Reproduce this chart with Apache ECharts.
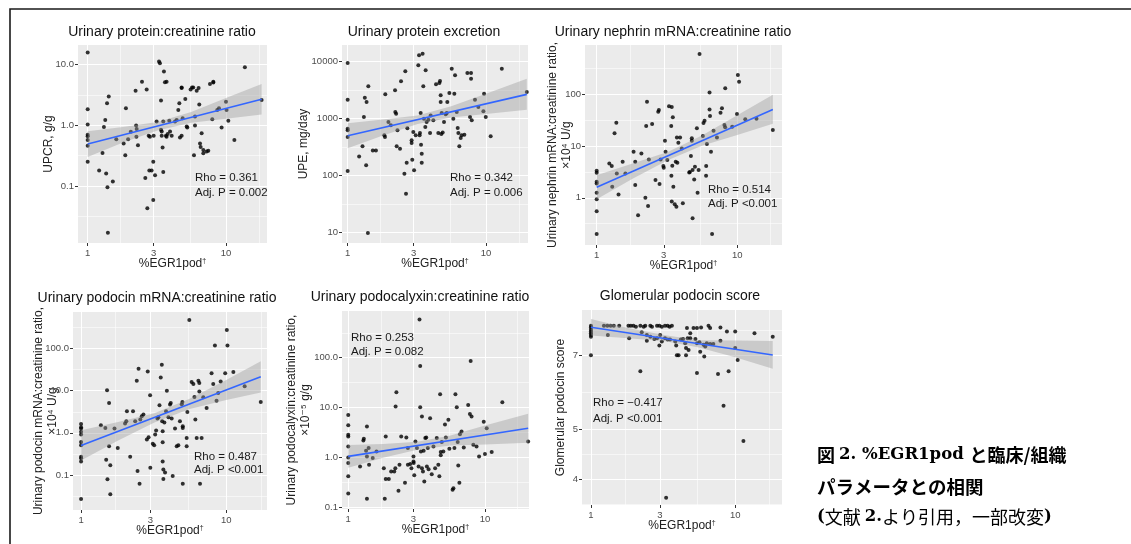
<!DOCTYPE html>
<html><head><meta charset="utf-8">
<script src="https://cdn.jsdelivr.net/npm/echarts@6/dist/echarts.min.js"></script>
<style>html,body{margin:0;padding:0;background:#fff}#c{width:1131px;height:544px}</style>
</head><body><div id="c"></div>
<script>
// ---------- DATA ----------
const xTicks = [1, 3, 10];
const xTickLabels = ['1', '3', '10'];
const xMinorTicks = [1.73, 5.48, 17.3];

// Panel 1: Urinary protein:creatinine ratio (UPCR, g/g)
const p1Points = [[1,15.8],[1,1.84],[1,1.03],[1,0.70],[1,0.66],[1,0.57],[1,0.46],[1,0.25],[1.21,0.18],[1.28,0.35],[1.31,0.94],[1.34,1.22],[1.38,2.3],[1.42,2.97],[1.36,0.16],[1.39,0.095],[1.52,0.118],[1.40,0.017],[1.61,0.59],[1.82,0.50],[1.87,0.32],[1.89,1.9],[1.96,0.59],[2.05,0.78],[2.22,3.7],[2.24,0.99],[2.26,0.87],[2.25,0.65],[2.31,0.47],[2.47,5.2],[2.67,3.9],[2.61,0.135],[2.70,0.043],[2.76,0.67],[2.82,0.65],[2.79,0.18],[2.90,0.18],[2.98,0.25],[2.98,0.059],[3.07,0.15],[3.0,0.67],[3.15,1.15],[3.28,11.2],[3.33,10.5],[3.39,2.55],[3.39,0.84],[3.43,0.79],[3.43,0.67],[3.48,0.43],[3.52,0.17],[3.52,1.15],[3.56,7.7],[3.62,5.1],[3.72,5.2],[3.68,0.67],[3.72,0.65],[3.79,0.72],[3.89,1.19],[3.94,0.79],[4.05,0.67],[4.28,1.15],[4.40,1.22],[4.52,1.79],[4.60,2.3],[4.65,0.63],[4.78,0.67],[4.78,4.1],[4.78,4.2],[4.86,1.30],[5.08,2.7],[5.20,0.95],[5.25,0.92],[5.55,3.9],[5.68,4.2],[5.80,4.2],[5.97,1.39],[5.97,0.99],[5.87,0.32],[6.14,3.7],[6.34,4.1],[6.41,2.2],[6.49,0.50],[6.56,0.44],[6.67,0.74],[6.86,0.39],[6.86,0.345],[7.25,0.37],[7.45,0.38],[7.66,4.8],[8.10,5.05],[8.10,5.2],[7.96,1.26],[8.65,1.79],[8.90,1.9],[9.30,0.92],[10.0,2.45],[10.1,1.79],[10.4,1.19],[11.5,0.57],[13.7,9.0],[18.1,2.6]];
const p1FitX = [1, 18.1];
const p1FitY = [0.49, 2.69];
const p1BandX = [1, 1.8, 3.2, 5.6, 10, 18.1];
const p1BandLo = [0.30, 0.52, 0.82, 1.10, 1.28, 1.51];
const p1BandHi = [0.80, 0.94, 1.13, 1.66, 2.81, 4.8];
const p1YTicks = [0.1, 1, 10];
const p1YTickLabels = ['0.1', '1.0', '10.0'];
const p1YMinor = [0.0316, 0.316, 3.16];

// Panel 2: Urinary protein excretion (UPE, mg/day)
const p2Points = [[1,9480],[1,2150],[1,960],[1,668],[1,624],[1,477],[1,121],[1.21,218],[1.28,327],[1.31,1070],[1.33,2330],[1.37,1960],[1.36,152],[1.41,3690],[1.40,9.9],[1.52,278],[1.60,278],[1.84,510],[1.86,477],[1.87,2670],[1.97,875],[2.05,764],[2.20,3140],[2.21,1310],[2.24,1220],[2.26,327],[2.29,624],[2.39,298],[2.43,4520],[2.57,108],[2.61,6770],[2.64,48],[2.67,169],[2.70,680],[2.90,417],[2.90,374],[2.93,191],[2.98,583],[3.02,124],[3.10,510],[3.24,8630],[3.28,12900],[3.31,510],[3.33,561],[3.37,1260],[3.39,350],[3.43,243],[3.43,169],[3.48,13800],[3.52,3690],[3.56,1000],[3.64,714],[3.66,7040],[3.72,875],[3.83,960],[3.94,561],[3.98,1140],[4.16,935],[4.35,4000],[4.52,561],[4.60,4220],[4.65,4580],[4.70,2570],[4.70,1960],[4.78,1260],[4.75,540],[4.86,575],[4.97,875],[5.11,1190],[5.20,1260],[5.25,1960],[5.43,2820],[5.65,7540],[5.80,1000],[5.90,2750],[5.97,5760],[6.14,1310],[6.24,686],[6.31,561],[6.41,327],[6.56,458],[6.67,510],[6.97,524],[7.33,6330],[7.66,1070],[7.79,6330],[7.88,935],[7.79,5030],[8.32,2150],[8.80,1600],[9.57,1350],[9.68,2750],[9.95,1070],[10.8,490],[13.0,7540],[19.7,2940]];
const p2FitX = [1, 19.7];
const p2FitY = [500, 2670];
const p2BandX = [1, 1.8, 3.2, 5.6, 10, 19.7];
const p2BandLo = [302, 508, 806, 1050, 1210, 1440];
const p2BandHi = [832, 968, 1137, 1660, 2750, 5000];
const p2YTicks = [10, 100, 1000, 10000];
const p2YTickLabels = ['10', '100', '1000', '10000'];
const p2YMinor = [31.6, 316, 3162];

// Panel 3: Urinary nephrin mRNA:creatinine ratio
const p3Points = [[1,3.33],[1,3.05],[1,2.04],[1,1.89],[1,1.25],[1,0.94],[1,0.55],[1,0.20],[1.23,4.6],[1.28,4.1],[1.29,1.63],[1.34,17.6],[1.38,28.3],[1.39,2.96],[1.43,1.16],[1.53,4.98],[1.60,2.96],[1.83,7.8],[1.88,4.98],[1.88,1.76],[1.97,0.46],[2.08,7.2],[2.22,1.0],[2.25,24.4],[2.28,72],[2.32,0.69],[2.35,5.5],[2.48,26.7],[2.62,2.2],[2.74,46],[2.77,50],[2.80,1.84],[2.85,5.5],[2.98,4.1],[3.00,3.81],[3.06,12.7],[3.09,7.8],[3.18,5.4],[3.27,59],[3.40,2.67],[3.42,0.85],[3.45,4.16],[3.51,1.63],[3.59,0.75],[3.65,4.98],[3.69,0.67],[3.75,4.75],[4.10,0.78],[4.03,9.0],[4.55,3.09],[4.60,3.14],[4.68,6.4],[4.81,3.43],[4.81,0.40],[4.94,2.26],[5.00,3.98],[5.22,1.25],[5.31,3.43],[6.0,2.67],[6.01,4.1],[6.5,7.8],[6.62,0.2],[5.39,603],[10.1,236],[10.3,175],[6.35,109],[8.21,131],[6.35,51],[6.4,38],[5.85,31],[5.75,28],[7.78,54],[7.6,44],[9.95,41.7],[11.4,33],[13.7,33.8],[8.1,25.5],[8.2,23],[9.2,23.6],[6.78,19.8],[5.16,22],[5.69,15.6],[7.17,14.7],[4.75,14.1],[4.75,12.7],[3.72,14.7],[3.92,14.7],[3.81,11.6],[6.08,11],[3.42,57],[3.48,36],[3.39,24.4],[17.9,20.4]];
const p3FitX = [1, 17.9];
const p3FitY = [1.6, 51];
const p3BandX = [1, 1.8, 3.2, 5.6, 10, 17.9];
const p3BandLo = [0.94, 2.34, 5.3, 10.1, 16.4, 26.9];
const p3BandHi = [2.73, 4.6, 7.7, 16.0, 39.3, 97.7];
const p3YTicks = [1, 10, 100];
const p3YTickLabels = ['1', '10', '100'];
const p3YMinor = [0.316, 3.16, 31.6, 316];

// Panel 4: Urinary podocin mRNA:creatinine ratio
const p4Points = [[1,1.63],[1,1.36],[1,1.27],[1,1.06],[1,0.91],[1,0.61],[1,0.51],[1,0.27],[1,0.25],[1,0.21],[1,0.027],[1.37,1.52],[1.47,1.31],[1.49,0.23],[1.51,10.2],[1.56,5.1],[1.56,0.48],[1.52,0.079],[1.59,0.17],[1.59,0.035],[1.70,1.27],[1.79,0.44],[2.01,1.66],[2.05,1.89],[2.07,3.25],[2.18,0.27],[2.28,3.25],[2.36,1.89],[2.42,17.2],[2.45,0.124],[2.49,33],[2.53,0.062],[2.56,2.07],[2.62,2.47],[2.69,2.71],[2.84,0.70],[2.88,28.6],[2.92,0.79],[2.99,7.8],[3.0,0.149],[3.12,0.55],[3.19,0.51],[3.24,0.91],[3.29,1.14],[3.36,2.18],[3.41,2.34],[3.47,4.5],[3.54,20.6],[3.6,41],[3.62,1.89],[3.65,1.09],[3.65,0.60],[3.65,0.21],[3.69,0.136],[3.69,0.080],[3.75,1.75],[3.79,0.114],[3.85,3.25],[3.9,10.0],[4.0,2.34],[4.1,4.7],[4.15,5.1],[4.21,2.18],[4.28,0.095],[4.44,1.27],[4.56,0.48],[4.68,0.51],[4.8,1.89],[4.94,4.8],[4.99,5.4],[5.02,1.44],[5.02,1.31],[5.02,0.062],[5.34,0.76],[5.34,0.48],[5.4,3.13],[5.57,475],[5.78,16],[5.94,14.4],[6.04,7.1],[6.13,2.07],[6.26,0.76],[6.43,17.2],[6.53,15.2],[6.53,9.6],[6.77,0.76],[6.6,0.062],[6.95,7.0],[7.33,3.9],[7.93,26],[8.14,14.4],[8.36,118],[8.58,5.8],[8.81,8.8],[9.16,16.6],[9.84,26],[10.1,276],[10.2,118],[11.2,27.6],[13.4,12.7],[17.3,5.4]];
const p4FitX = [1, 17.3];
const p4FitY = [0.5, 21.4];
const p4BandX = [1, 1.8, 3.2, 5.6, 10, 17.3];
const p4BandLo = [0.22, 0.66, 1.76, 3.7, 6.0, 9.1];
const p4BandHi = [1.15, 1.82, 2.9, 6.4, 18.0, 50];
const p4YTicks = [0.1, 1, 10, 100];
const p4YTickLabels = ['0.1', '1.0', '10.0', '100.0'];
const p4YMinor = [0.0316, 0.316, 3.16, 31.6, 316];

// Panel 5: Urinary podocalyxin:creatinine ratio
const p5Points = [[1,7.1],[1,4.4],[1,2.84],[1,2.63],[1,1.66],[1,1.0],[1,0.77],[1,0.42],[1,0.19],[1.22,0.66],[1.29,2.19],[1.3,2.36],[1.35,1.36],[1.37,4.17],[1.37,1.05],[1.37,0.149],[1.41,1.54],[1.42,0.71],[1.51,0.97],[1.61,1.32],[1.85,0.149],[1.82,0.61],[1.88,2.63],[1.88,0.37],[1.98,0.37],[2.06,0.52],[2.17,0.52],[2.21,0.61],[2.22,10.5],[2.25,20.3],[2.33,0.215],[2.37,0.71],[2.44,2.63],[2.6,0.31],[2.66,2.51],[2.73,0.71],[2.73,1.54],[2.84,0.74],[2.9,0.61],[3.0,1.05],[3.0,0.83],[3.01,0.77],[3.04,0.44],[3.1,2.09],[3.18,1.54],[3.27,0.66],[3.32,585],[3.36,68],[3.36,10.2],[3.4,1.32],[3.46,6.6],[3.46,0.61],[3.52,0.52],[3.56,1.36],[3.6,0.33],[3.66,2.44],[3.72,2.51],[3.76,0.66],[3.82,1.54],[3.87,0.58],[3.97,6.1],[4.08,0.46],[4.2,1.66],[4.32,0.61],[4.44,2.44],[4.56,0.71],[4.64,0.42],[4.7,18.5],[4.75,1.28],[4.75,1.1],[4.83,2.03],[4.96,1.32],[5.1,4.6],[5.18,2.51],[5.4,5.7],[5.49,1.49],[5.8,0.226],[5.88,0.24],[5.98,1.54],[6.08,18.5],[6.22,10.2],[6.32,2.03],[6.38,0.69],[6.5,0.31],[6.56,2.93],[6.74,3.31],[7.0,1.58],[7.54,11.3],[7.76,7.4],[7.98,6.6],[7.86,86],[8.22,1.79],[8.68,1.66],[9.06,1.05],[9.8,5.2],[10.0,1.17],[10.3,3.86],[11.2,1.28],[13.4,12.8],[20.7,2.09]];
const p5FitX = [1, 20.7];
const p5FitY = [1.05, 3.85];
const p5BandX = [1, 1.8, 3.2, 5.6, 10, 20.7];
const p5BandLo = [0.62, 0.98, 1.42, 1.74, 1.82, 1.97];
const p5BandHi = [1.78, 1.87, 2.07, 2.76, 4.38, 7.5];
const p5YTicks = [0.1, 1, 10, 100];
const p5YTickLabels = ['0.1', '1.0', '10.0', '100.0'];
const p5YMinor = [0.316, 3.16, 31.6, 316];

// Panel 6: Glomerular podocin score
const p6Points = [[1,7.98],[1,7.92],[1,7.84],[1,7.78],[1,7.72],[1,7.66],[1,7.6],[1,6.99],[1.23,7.98],[1.30,7.98],[1.37,7.98],[1.44,7.98],[1.57,7.98],[1.82,7.98],[1.89,7.98],[1.97,7.98],[2.05,7.95],[2.2,7.98],[2.32,7.95],[2.38,7.98],[2.58,7.98],[2.65,7.95],[2.87,7.98],[2.98,7.98],[3.1,7.95],[3.26,7.98],[3.4,7.98],[3.51,7.95],[3.64,7.98],[4.63,7.9],[4.88,7.72],[5.14,7.9],[5.43,7.9],[5.8,7.92],[6.53,7.98],[6.7,7.9],[7.9,7.92],[1.31,7.66],[1.84,7.55],[2.25,7.75],[2.44,7.66],[2.58,7.6],[2.75,7.52],[2.87,7.55],[3.02,7.66],[3.1,7.44],[3.26,7.55],[3.4,7.5],[3.53,7.5],[3.84,7.44],[4.2,7.5],[4.35,7.52],[4.5,7.38],[4.68,7.55],[4.88,7.55],[5.3,7.52],[5.43,7.38],[5.65,7.41],[6.03,7.33],[6.2,7.27],[6.35,7.38],[6.7,7.35],[7.05,7.35],[7.9,7.46],[8.76,7.78],[10,7.78],[10,7.22],[13.6,7.72],[18.2,7.6],[2.44,7.46],[2.98,7.3],[3.9,7.3],[4.56,7.22],[4.75,7.16],[5.72,7.1],[6.1,6.95],[3.94,6.99],[4.05,6.99],[4.56,6.99],[5.43,6.45],[7.6,6.42],[9.0,6.5],[2.2,6.5],[10.4,6.84],[8.3,5.57],[11.4,4.75],[3.32,3.68]];
const p6FitX = [1, 18.2];
const p6FitY = [7.93, 7.0];
const p6BandX = [1, 1.8, 3.2, 5.6, 10, 18.2];
const p6BandLo = [7.64, 7.55, 7.45, 7.24, 6.93, 6.58];
const p6BandHi = [8.23, 7.9, 7.66, 7.48, 7.47, 7.45];
const p6YTicks = [4, 5, 7];
const p6YTickLabels = ['4', '5', '7'];
const p6YMinor = [3.58, 4.47, 5.92, 7.83];

// ---------- TEXT ----------
const panelTitles = ['Urinary protein:creatinine ratio', 'Urinary protein excretion', 'Urinary nephrin mRNA:creatinine ratio',
  'Urinary podocin mRNA:creatinine ratio', 'Urinary podocalyxin:creatinine ratio', 'Glomerular podocin score'];
const yTitles = ['UPCR, g/g', 'UPE, mg/day', 'Urinary nephrin mRNA:creatinine ratio,\n×10⁴ U/g',
  'Urinary podocin mRNA:creatinine ratio,\n×10⁴ U/g', 'Urinary podocalyxin:creatinine ratio,\n×10⁻⁵ g/g', 'Glomerular podocin score'];
const statTexts = [['Rho = 0.361', 'Adj. P = 0.002'], ['Rho = 0.342', 'Adj. P = 0.006'], ['Rho = 0.514', 'Adj. P <0.001'],
  ['Rho = 0.487', 'Adj. P <0.001'], ['Rho = 0.253', 'Adj. P = 0.082'], ['Rho = \u22120.417', 'Adj. P <0.001']];

// ---------- LAYOUT (positions / ranges) ----------
const layout = [
  {left: 78, top: 45, width: 189, height: 198, xMin: 0.851, xMax: 19.8, yMin: 0.0115, yMax: 21.0, yGap: 23, title: [162, 32], stat: [195, 178, 15]},
  {left: 342, top: 45, width: 186, height: 198, xMin: 0.91, xMax: 20.1, yMin: 6.6, yMax: 19600, yGap: 32, title: [424, 32], stat: [450, 178, 15]},
  {left: 585, top: 45, width: 197, height: 200, xMin: 0.826, xMax: 20.8, yMin: 0.122, yMax: 900, yGap: 12, title: [673, 32], stat: [708, 190, 14]},
  {left: 73, top: 312, width: 194, height: 198, xMin: 0.88, xMax: 19.1, yMin: 0.0148, yMax: 736, yGap: 14, title: [157, 298], stat: [194, 457, 13]},
  {left: 342, top: 311, width: 187, height: 198, xMin: 0.90, xMax: 21.0, yMin: 0.0925, yMax: 863, yGap: 30, title: [420, 297], stat: [351, 338, 14]},
  {left: 582, top: 310, width: 200, height: 195, xMin: 0.867, xMax: 21.1, yMin: 3.56, yMax: 8.57, yGap: 15, title: [680, 296], stat: [593, 403, 16]}
];

const panelData = [
  {pts: p1Points, fx: p1FitX, fy: p1FitY, bx: p1BandX, blo: p1BandLo, bhi: p1BandHi, yt: p1YTicks, yl: p1YTickLabels, ym: p1YMinor},
  {pts: p2Points, fx: p2FitX, fy: p2FitY, bx: p2BandX, blo: p2BandLo, bhi: p2BandHi, yt: p2YTicks, yl: p2YTickLabels, ym: p2YMinor},
  {pts: p3Points, fx: p3FitX, fy: p3FitY, bx: p3BandX, blo: p3BandLo, bhi: p3BandHi, yt: p3YTicks, yl: p3YTickLabels, ym: p3YMinor},
  {pts: p4Points, fx: p4FitX, fy: p4FitY, bx: p4BandX, blo: p4BandLo, bhi: p4BandHi, yt: p4YTicks, yl: p4YTickLabels, ym: p4YMinor},
  {pts: p5Points, fx: p5FitX, fy: p5FitY, bx: p5BandX, blo: p5BandLo, bhi: p5BandHi, yt: p5YTicks, yl: p5YTickLabels, ym: p5YMinor},
  {pts: p6Points, fx: p6FitX, fy: p6FitY, bx: p6BandX, blo: p6BandLo, bhi: p6BandHi, yt: p6YTicks, yl: p6YTickLabels, ym: p6YMinor}
];

// ---------- BUILD ----------
const SANS = '"Liberation Sans", Arial, "DejaVu Sans", sans-serif';
const labelColor = '#4D4D4D';
function fmt(ticks, labels) {
  return function (v) {
    const k = ticks.findIndex(t => Math.abs(t - v) / t < 1e-6);
    return k >= 0 ? labels[k] : '';
  };
}

const grids = [], xAxes = [], yAxes = [], series = [], graphics = [];
layout.forEach((L, i) => {
  const D = panelData[i];
  grids.push({left: L.left, top: L.top, width: L.width, height: L.height, show: true,
    backgroundColor: '#EBEBEB', borderWidth: 0, outerBoundsMode: 'none', containLabel: false});
  // major x
  xAxes.push({gridIndex: i, type: 'log', logBase: 10, min: L.xMin, max: L.xMax, position: 'bottom',
    axisLine: {show: false},
    axisTick: {show: true, length: 3, lineStyle: {color: '#333', width: 1}, customValues: xTicks},
    axisLabel: {show: true, customValues: xTicks, formatter: fmt(xTicks, xTickLabels), fontSize: 9.5,
      color: labelColor, margin: 5, fontFamily: SANS, hideOverlap: false},
    splitLine: {show: true, lineStyle: {color: '#FFFFFF', width: 1.1}},
    name: '%EGR1pod{sup|\u2020}', nameLocation: 'middle', nameGap: 15, nameMoveOverlap: false,
    nameTextStyle: {fontSize: 12, color: '#222', fontFamily: SANS,
      rich: {sup: {fontSize: 7, color: '#222', fontFamily: SANS, verticalAlign: 'top', padding: [0, 0, 5, 0]}}}
  });
  // minor x
  xAxes.push({gridIndex: i, type: 'log', logBase: 10, min: L.xMin, max: L.xMax, position: 'bottom',
    axisLine: {show: false}, axisTick: {show: false, customValues: xMinorTicks}, axisLabel: {show: false},
    splitLine: {show: true, lineStyle: {color: '#FFFFFF', width: 0.55}}});
  // major y
  yAxes.push({gridIndex: i, type: 'log', logBase: 10, min: L.yMin, max: L.yMax, position: 'left',
    axisLine: {show: false},
    axisTick: {show: true, length: 3, lineStyle: {color: '#333', width: 1}, customValues: D.yt},
    axisLabel: {show: true, customValues: D.yt, formatter: fmt(D.yt, D.yl), fontSize: 9.5,
      color: labelColor, margin: 4, fontFamily: SANS, hideOverlap: false},
    splitLine: {show: true, lineStyle: {color: '#FFFFFF', width: 1.1}},
    name: yTitles[i], nameLocation: 'middle', nameGap: L.yGap, nameMoveOverlap: false,
    nameTextStyle: {fontSize: 12, color: '#222', fontFamily: SANS, lineHeight: 13.5}
  });
  // minor y
  yAxes.push({gridIndex: i, type: 'log', logBase: 10, min: L.yMin, max: L.yMax, position: 'left',
    axisLine: {show: false}, axisTick: {show: false, customValues: D.ym}, axisLabel: {show: false},
    splitLine: {show: true, lineStyle: {color: '#FFFFFF', width: 0.55}}});

  const xi = 2 * i, yi = 2 * i;
  series.push({type: 'scatter', xAxisIndex: xi, yAxisIndex: yi, data: D.pts, symbol: 'circle', symbolSize: 4,
    itemStyle: {color: '#000'}, silent: true, z: 2, animation: false});
  series.push({type: 'custom', xAxisIndex: xi, yAxisIndex: yi, z: 3, silent: true, animation: false,
    data: [[D.bx[0], D.blo[0]]], encode: {x: 0, y: 1},
    renderItem: function (params, api) {
      const pts = [];
      for (let k = 0; k < D.bx.length; k++) pts.push(api.coord([D.bx[k], D.bhi[k]]));
      for (let k = D.bx.length - 1; k >= 0; k--) pts.push(api.coord([D.bx[k], D.blo[k]]));
      return {type: 'polygon', shape: {points: pts}, style: {fill: 'rgba(153,153,153,0.4)'}};
    }});
  series.push({type: 'line', xAxisIndex: xi, yAxisIndex: yi, z: 4, silent: true, animation: false,
    data: D.fx.map((x, k) => [x, D.fy[k]]), showSymbol: false, symbol: 'none',
    lineStyle: {color: '#3366FF', width: 1.6}});

  graphics.push({type: 'text', x: L.title[0], y: L.title[1], silent: true, z: 100,
    style: {text: panelTitles[i], fontSize: 14, fontFamily: SANS, fill: '#111', align: 'center', verticalAlign: 'middle'}});
  statTexts[i].forEach((s, k) => graphics.push({type: 'text', x: L.stat[0], y: L.stat[1] + k * L.stat[2], silent: true, z: 100,
    style: {text: s, fontSize: 11.5, fontFamily: SANS, fill: '#1a1a1a', align: 'left', verticalAlign: 'middle'}}));
});

// frame
graphics.push({type: 'rect', silent: true, shape: {x: 10, y: 9, width: 1200, height: 600},
  style: {fill: 'none', stroke: '#1a1a1a', lineWidth: 1.6}, z: 100});
// caption
const CJK = '"Noto Sans CJK JP", sans-serif';
const SERIF = '"DejaVu Serif", "Liberation Serif", "Noto Sans CJK JP", serif';
graphics.push({type: 'text', x: 817, y: 455, silent: true, z: 100, style: {
  text: '{j|図 }{s|2. %EGR1pod }{j|と臨床/組織}', verticalAlign: 'middle', align: 'left',
  rich: {j: {fontFamily: CJK, fontWeight: 'bold', fontSize: 18, fill: '#000'},
         s: {fontFamily: SERIF, fontWeight: 'bold', fontSize: 16.5, fill: '#000'}}}});
graphics.push({type: 'text', x: 817, y: 487, silent: true, z: 100, style: {
  text: 'パラメータとの相関', fontFamily: CJK, fontWeight: 'bold', fontSize: 18.5, fill: '#000', verticalAlign: 'middle', align: 'left'}});
graphics.push({type: 'text', x: 817, y: 517, silent: true, z: 100, style: {
  text: '{s|(}{j|文献 }{s|2.}{j|より引用，一部改変}{s|)}', verticalAlign: 'middle', align: 'left',
  rich: {j: {fontFamily: CJK, fontWeight: 'normal', fontSize: 18, fill: '#000'},
         s: {fontFamily: SERIF, fontWeight: 'bold', fontSize: 16.5, fill: '#000'}}}});

const chart = echarts.init(document.getElementById('c'), null, {renderer: 'canvas'});
chart.setOption({
  animation: false,
  backgroundColor: '#FFFFFF',
  grid: grids, xAxis: xAxes, yAxis: yAxes, series: series, graphic: graphics
});
</script></body></html>
